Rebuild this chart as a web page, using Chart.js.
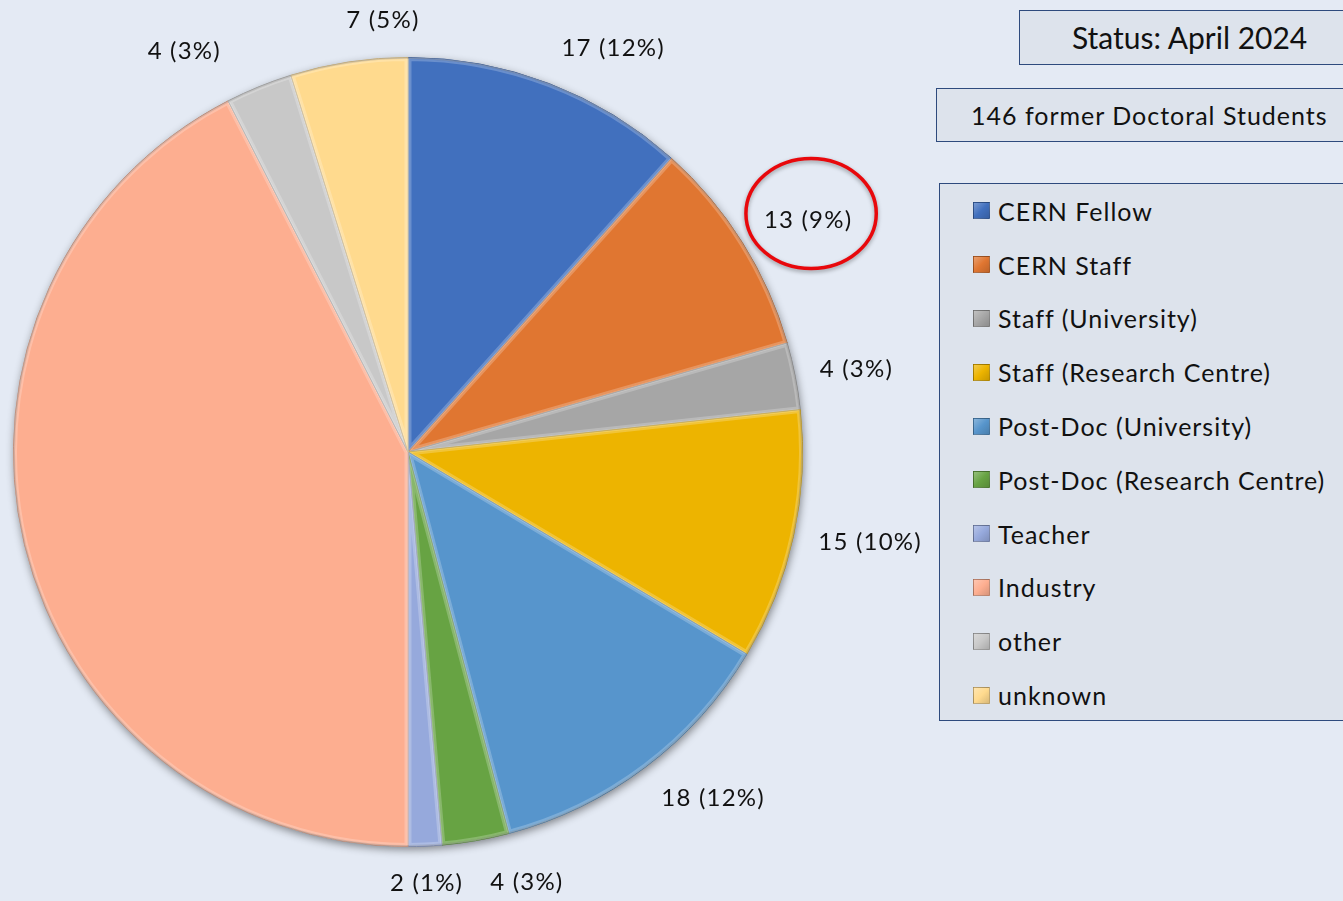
<!DOCTYPE html>
<html><head><meta charset="utf-8">
<script src="https://cdn.jsdelivr.net/npm/chart.js@4.4.1/dist/chart.umd.min.js"></script>
<style>
html,body{margin:0;padding:0;background:#E4EAF4;width:1343px;height:901px;overflow:hidden;font-family:Lato,'Open Sans',sans-serif;}
#c{position:absolute;left:0;top:0;}
.box{position:absolute;background:#DDE3EC;border:1.5px solid #2E4A7D;box-sizing:border-box;color:#111;font-size:25px;letter-spacing:1px;}
#status{left:1019px;top:10px;width:340px;height:55px;line-height:52px;padding-left:52px;font-size:30px;letter-spacing:0;}
#total{left:936px;top:88px;width:420px;height:54px;line-height:52px;padding-left:34px;}
#legend{left:939px;top:183px;width:420px;height:538px;padding-top:0;}
.row{height:53.8px;display:flex;align-items:center;padding-left:33px;}
.sw{width:17px;height:17px;box-sizing:border-box;border:1px solid rgba(0,0,0,0.25);margin-right:8px;flex:none;}
</style></head>
<body>
<canvas id="c" width="1343" height="901"></canvas>
<div class="box" id="status">Status: April 2024</div>
<div class="box" id="total"></div>
<div class="box" id="legend"></div>
<script>
const categories = ['CERN Fellow','CERN Staff','Staff (University)','Staff (Research Centre)','Post-Doc (University)','Post-Doc (Research Centre)','Teacher','Industry','other','unknown'];
const counts = [17,13,4,15,18,4,2,62,4,7];
const colors = ['#4170BE','#E07631','#A6A6A6','#EDB400','#5795CC','#67A343','#96A9DC','#FDAE90','#C8C8C8','#FFDA8E'];
const hiddenLabels = ['Industry'];
const highlighted = 'CERN Staff';
const total = counts.reduce((a,b)=>a+b,0);

function shade(hex, f){
  const n=parseInt(hex.slice(1),16);let r=n>>16,g=(n>>8)&255,b=n&255;
  const t=f<0?0:255,p=Math.abs(f);
  r=Math.round((t-r)*p+r);g=Math.round((t-g)*p+g);b=Math.round((t-b)*p+b);
  return 'rgb('+r+','+g+','+b+')';
}

document.getElementById('total').textContent = total + ' former Doctoral Students';
const leg = document.getElementById('legend');
categories.forEach((c,i)=>{
  const row=document.createElement('div');row.className='row';
  const sw=document.createElement('div');sw.className='sw';
  sw.style.background='linear-gradient(135deg,'+shade(colors[i],0.3)+','+colors[i]+' 50%,'+shade(colors[i],-0.15)+')';
  const t=document.createElement('span');t.textContent=c;
  row.appendChild(sw);row.appendChild(t);leg.appendChild(row);
});

const LABEL_FONT = '24px Lato, "Open Sans", sans-serif';
const labelNudgeDeg = [6,2,0.7,-1.3,-4.4,0,0,0,-7,5.3];
const labelExtraGap = [0,0,0,0,0,0,0,0,12,0];

const shadowPlugin = {
  id:'pieShadow',
  beforeDatasetsDraw(chart){
    const a=chart.getDatasetMeta(0).data[0]; if(!a) return;
    const ctx=chart.ctx; ctx.save();
    ctx.shadowColor='rgba(0,0,0,0.45)'; ctx.shadowBlur=9; ctx.shadowOffsetX=1; ctx.shadowOffsetY=3;
    ctx.beginPath(); ctx.arc(a.x,a.y,a.outerRadius,0,Math.PI*2); ctx.fillStyle='#999'; ctx.fill();
    ctx.restore();
  }
};

const bevelPlugin = {
  id:'bevel',
  afterDatasetsDraw(chart){
    const ctx=chart.ctx;
    chart.getDatasetMeta(0).data.forEach((a,i)=>{
      ctx.save();
      ctx.beginPath(); ctx.moveTo(a.x,a.y); ctx.arc(a.x,a.y,a.outerRadius,a.startAngle,a.endAngle); ctx.closePath();
      ctx.clip();
      ctx.lineJoin='round';
      ctx.lineWidth=7; ctx.strokeStyle='rgba(255,255,255,0.22)'; ctx.stroke();
      ctx.lineWidth=2.5; ctx.strokeStyle='rgba(255,255,255,0.2)'; ctx.stroke();
      ctx.beginPath(); ctx.arc(a.x,a.y,a.outerRadius,a.startAngle,a.endAngle);
      ctx.lineWidth=3; ctx.strokeStyle='rgba(0,0,0,0.12)'; ctx.stroke();
      ctx.restore();
    });
  }
};

const labelPlugin = {
  id:'outLabels',
  afterDraw(chart){
    const ctx=chart.ctx, meta=chart.getDatasetMeta(0), ds=chart.data.datasets[0];
    ctx.save(); ctx.font=LABEL_FONT; ctx.letterSpacing='1.2px'; ctx.fillStyle='#111'; ctx.textAlign='center'; ctx.textBaseline='middle';
    const h=26, gap=23, placed=[];
    const boxes=[];
    for(let i=meta.data.length-1;i>=0;i--){
      const lab=chart.data.labels[i]; if(hiddenLabels.includes(lab)) continue;
      const a=meta.data[i]; const v=ds.data[i];
      const txt=v+' ('+Math.round(v/total*100)+'%)';
      const w=ctx.measureText(txt).width;
      const ang=(a.startAngle+a.endAngle)/2 + labelNudgeDeg[i]*Math.PI/180;
      const dx=Math.cos(ang), dy=Math.sin(ang);
      const d=a.outerRadius+gap+labelExtraGap[i]+Math.abs(dx)*w/2+Math.abs(dy)*h/2;
      let cx=a.x+dx*d, cy=a.y+dy*d;
      for(const b of placed){
        if(Math.abs(cx-b.cx)<(w+b.w)/2+20 && Math.abs(cy-b.cy)<h){
          cx = cx>b.cx ? b.cx+(b.w+w)/2+27 : b.cx-(b.w+w)/2-27;
        }
      }
      placed.push({cx,cy,w});
      ctx.fillText(txt,cx,cy);
      if(lab===highlighted) boxes.push({cx,cy,w});
    }
    boxes.forEach(b=>{
      ctx.save();
      ctx.shadowColor='rgba(0,0,0,0.35)'; ctx.shadowBlur=4; ctx.shadowOffsetY=2;
      ctx.beginPath(); ctx.ellipse(b.cx+3,b.cy-7,b.w/2+21,55,0,0,Math.PI*2);
      ctx.lineWidth=3.5; ctx.strokeStyle='#E8080C'; ctx.stroke();
      ctx.restore();
    });
    ctx.restore();
  }
};

new Chart(document.getElementById('c'),{
  type:'pie',
  data:{labels:categories,datasets:[{data:counts,backgroundColor:colors,
    borderColor:colors.map(c=>shade(c,-0.25)),borderWidth:1}]},
  options:{responsive:false,animation:false,devicePixelRatio:1,
    layout:{padding:{left:13,top:57,right:540,bottom:54}},
    plugins:{legend:{display:false},tooltip:{enabled:false},title:{display:false}}},
  plugins:[shadowPlugin,bevelPlugin,labelPlugin]
});
</script>
</body></html>
